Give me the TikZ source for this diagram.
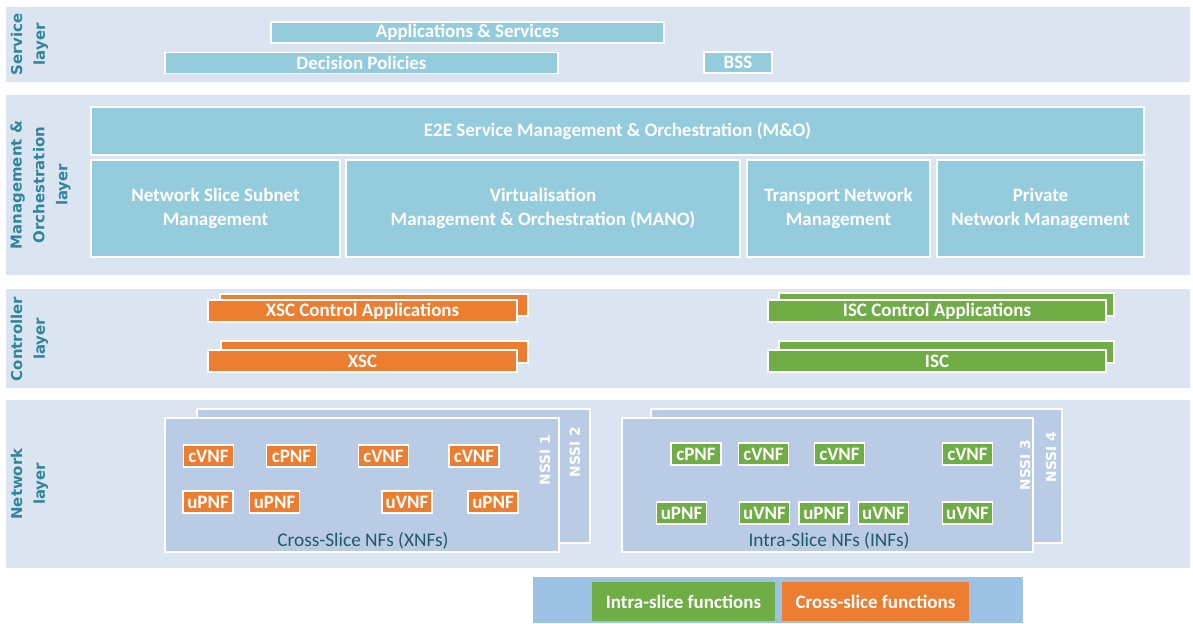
\documentclass[tikz,border=0pt]{standalone}
\usepackage{fontspec}
\setmainfont{Carlito}
\newfontfamily\labelfont{DejaVu Sans}
\usepackage{xcolor}
\usepackage{tikz}
\usetikzlibrary{positioning}
\definecolor{c_band}{rgb}{0.86, 0.90, 0.95}
\definecolor{c_mgmt}{rgb}{0.58, 0.80, 0.87}
\definecolor{c_cross}{rgb}{0.93, 0.49, 0.19}
\definecolor{c_intra}{rgb}{0.44, 0.68, 0.28}
\definecolor{c_nssi}{rgb}{0.73, 0.80, 0.90}
\definecolor{c_legend}{rgb}{0.62, 0.76, 0.90}
\definecolor{c_label}{rgb}{0.19, 0.52, 0.61}
\definecolor{c_dark}{rgb}{0.13, 0.35, 0.41}
\tikzset{l-band/.style={rectangle, fill=c_band, inner sep=0pt, minimum width=23.68cm},
l-label/.style={rotate=90, align=center, text=c_label, font=\labelfont\bfseries\fontsize{8.5}{13}\selectfont},
c-box/.style={rectangle, draw=white, line width=0.8pt, fill=c_mgmt, text=white, inner sep=0pt, align=center, font=\bfseries\fontsize{10.8}{14}\selectfont},
x-box/.style={c-box, fill=c_cross},
i-box/.style={c-box, fill=c_intra},
nf/.style={minimum width=1cm, minimum height=0.44cm},
nssi-box/.style={rectangle, draw=white, line width=0.8pt, fill=c_nssi, inner sep=0pt, minimum height=2.68cm},
nssi-label/.style={rotate=90, text=white, font=\labelfont\bfseries\fontsize{7.8}{9}\selectfont},
nf-title/.style={text=c_dark, font=\fontsize{11}{12}\selectfont}}

\begin{document}
\begin{tikzpicture}[x=0.02cm, y=-0.02cm]
\useasboundingbox (0,0) rectangle (1193,623);
% layers
\node (svc) [l-band, minimum height=1.5cm] at (598,44.5) {};
\node (mgt) [l-band, minimum height=3.6cm] at (598,185) {};
\node (ctl) [l-band, minimum height=1.98cm] at (598,338.5) {};
\node (net) [l-band, minimum height=3.36cm] at (598,484) {};
\node (svc-l) [l-label] at (29.5,44.5) {Service\\layer};
\node (mgt-l) [l-label] at (40.5,185) {Management \&\\Orchestration\\layer};
\node (ctl-l) [l-label] at (29.5,339) {Controller\\layer};
\node (net-l) [l-label] at (29.5,484) {Network\\layer};

% service layer
\node (apps) [c-box, minimum width=7.86cm, minimum height=0.42cm] at (467.5,32.5) {Applications \& Services};
\node (dec) [c-box, minimum width=7.86cm, minimum height=0.42cm] at (361.5,63) {Decision Policies};
\node (bss) [c-box, minimum width=1.36cm, minimum height=0.42cm] at (738,62.5) {BSS};

% management & orchestration layer
\node (e2e) [c-box, minimum width=21.06cm, minimum height=0.96cm] at (617.5,131) {E2E Service Management \& Orchestration (M\&O)};
\node (nssm) [c-box, minimum width=4.98cm, minimum height=1.94cm] at (215.5,208.5) {Network Slice Subnet\\Management};
\node (mano) [c-box, minimum width=7.88cm, minimum height=1.94cm] at (543,208.5) {Virtualisation\\Management \& Orchestration (MANO)};
\node (tnm) [c-box, minimum width=3.66cm, minimum height=1.94cm] at (838.5,208.5) {Transport Network\\Management};
\node (pnm) [c-box, minimum width=4.14cm, minimum height=1.94cm] at (1040.5,208.5) {Private\\Network Management};

% controller layer
\node (xsca-b) [x-box, minimum width=6.16cm, minimum height=0.44cm] at (374,305) {};
\node (xsca) [x-box, minimum width=6.18cm, minimum height=0.44cm] at (362.5,311) {XSC Control Applications};
\node (xsc-b) [x-box, minimum width=6.14cm, minimum height=0.44cm] at (374.5,352) {};
\node (xsc) [x-box, minimum width=6.18cm, minimum height=0.44cm] at (362.5,361) {XSC};
\node (isca-b) [i-box, minimum width=6.7cm, minimum height=0.46cm] at (946.5,304.5) {};
\node (isca) [i-box, minimum width=6.76cm, minimum height=0.44cm] at (937,311) {ISC Control Applications};
\node (isc-b) [i-box, minimum width=6.7cm, minimum height=0.44cm] at (946.5,352) {};
\node (isc) [i-box, minimum width=6.76cm, minimum height=0.44cm] at (937,361) {ISC};

% network layer
\node (nssi2) [nssi-box, minimum width=7.86cm] at (393.5,476) {};
\node (nssi1) [nssi-box, minimum width=7.88cm] at (362,485) {};
\node (nssi4) [nssi-box, minimum width=8.22cm] at (856.5,476) {};
\node (nssi3) [nssi-box, minimum width=8.22cm] at (827.5,485) {};
\node (nssi1-l) [nssi-label] at (545,460) {NSSI 1};
\node (nssi2-l) [nssi-label] at (575,452) {NSSI 2};
\node (nssi3-l) [nssi-label] at (1025,465) {NSSI 3};
\node (nssi4-l) [nssi-label] at (1051,457) {NSSI 4};
\node (xnf) [nf-title] at (363,541) {Cross-Slice NFs (XNFs)};
\node (inf) [nf-title] at (829,541) {Intra-Slice NFs (INFs)};

\node (xc1) [x-box, nf] at (208.5,456) {cVNF};
\node (xc2) [x-box, nf] at (291.5,456) {cPNF};
\node (xc3) [x-box, nf] at (383.5,456) {cVNF};
\node (xc4) [x-box, nf] at (474,456) {cVNF};
\node (xu1) [x-box, nf] at (208,502) {uPNF};
\node (xu2) [x-box, nf] at (274.5,502) {uPNF};
\node (xu3) [x-box, nf] at (407,502) {uVNF};
\node (xu4) [x-box, nf] at (493,502) {uPNF};

\node (ic1) [i-box, nf] at (696,454) {cPNF};
\node (ic2) [i-box, nf] at (763.5,454) {cVNF};
\node (ic3) [i-box, nf] at (839.5,454) {cVNF};
\node (ic4) [i-box, nf] at (967.5,454) {cVNF};
\node (iu1) [i-box, nf] at (681.5,513) {uPNF};
\node (iu2) [i-box, nf] at (764.5,513) {uVNF};
\node (iu3) [i-box, nf] at (824,513) {uPNF};
\node (iu4) [i-box, nf] at (883.5,513) {uVNF};
\node (iu5) [i-box, nf] at (967.5,513) {uVNF};

% legend
\node (leg) [rectangle, fill=c_legend, minimum width=9.8cm, minimum height=0.92cm] at (778,600) {};
\node (leg-i) [i-box, draw=none, minimum width=3.66cm, minimum height=0.78cm] at (683.5,601.5) {Intra-slice functions};
\node (leg-x) [x-box, draw=none, minimum width=3.74cm, minimum height=0.78cm] at (875.5,601.5) {Cross-slice functions};
\end{tikzpicture}
\end{document}
